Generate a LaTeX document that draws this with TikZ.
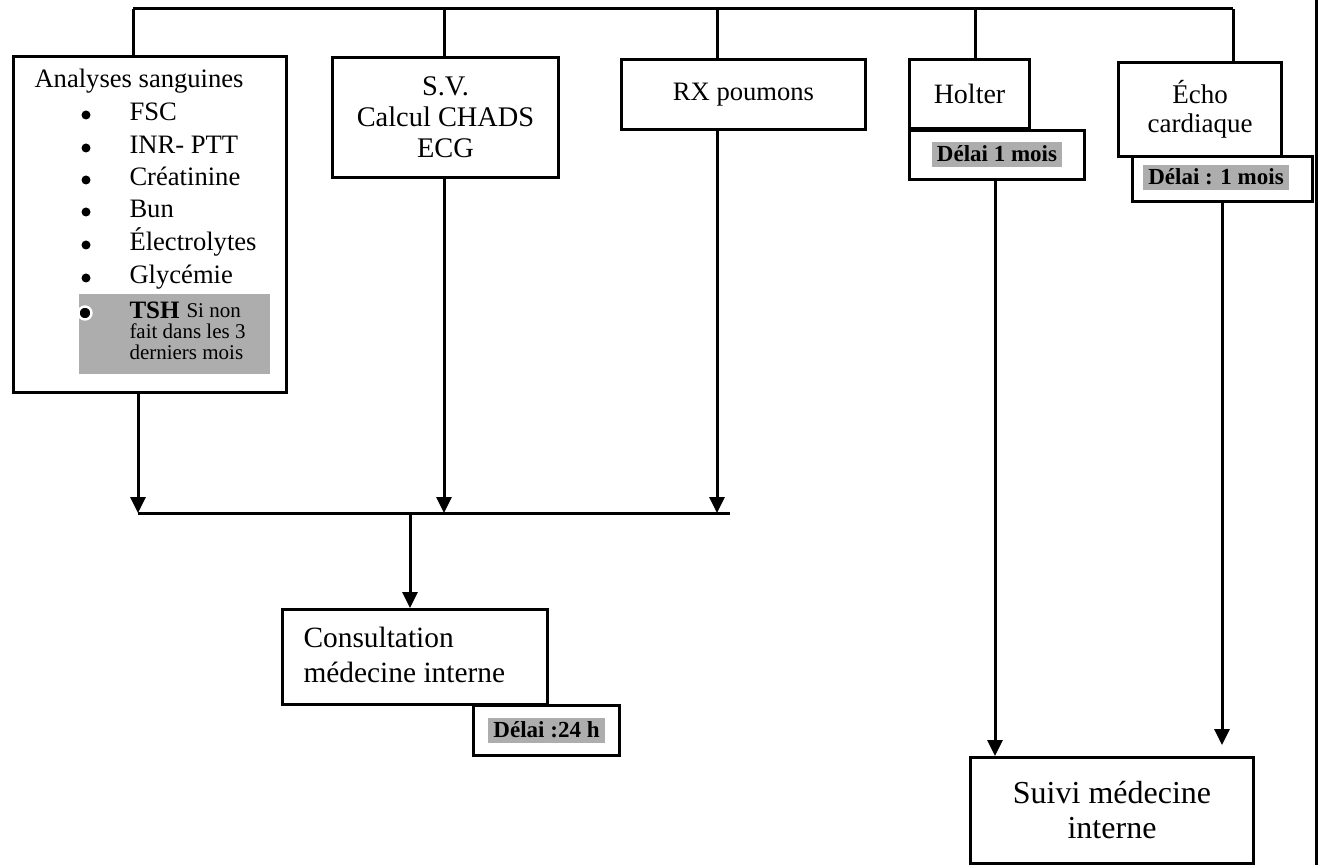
\documentclass[tikz,border=0pt]{standalone}
\usepackage{fontspec}
\setmainfont{Liberation Serif}
\usetikzlibrary{arrows.meta}
\definecolor{surligne}{gray}{0.68}

\begin{document}
\begin{tikzpicture}
	[x=0.5pt,y=-0.5pt,line width=1.5pt,
	every node/.style={inner sep=0pt},
	box/.style={draw, anchor=north west, align=center},
	delai/.style={fill=surligne, font=\fontsize{11.5}{12}\selectfont\bfseries, inner xsep=2.5pt, text height=9.5pt, text depth=3pt},
	item/.style={anchor=west, font=\fontsize{13.3}{16}\selectfont, text height=9pt, text depth=3pt},
	petit/.style={anchor=west, font=\fontsize{10.5}{10.5}\selectfont, text height=7pt, text depth=2pt},
	puce/.style={circle, fill, minimum size=4.5pt},
	fleche/.style={-{Triangle[length=8pt,width=7.5pt]}}]
	\useasboundingbox (0,0) rectangle (1320,865);

	\node[box, minimum width=136.5pt, minimum height=168pt] (ana) at (12,55) {};
	\node[box, minimum width=113pt, minimum height=60pt, font=\fontsize{14.2}{15.5}\selectfont] (sv) at (331,56) {S.V.\\Calcul CHADS\\ECG};
	\node[box, minimum width=122pt, minimum height=35pt, font=\fontsize{13.3}{15}\selectfont] (rx) at (620,58) {RX poumons};
	\node[box, minimum width=60pt, minimum height=34.5pt, font=\fontsize{14}{15}\selectfont] (hol) at (908,58) {Holter};
	\node[box, minimum width=87.5pt, minimum height=24.5pt] (hold) at (908,129) {};
	\node[box, minimum width=81.5pt, minimum height=47pt, font=\fontsize{13.5}{14.5}\selectfont] (echo) at (1117,61) {Écho\\cardiaque};
	\node[box, minimum width=90pt, minimum height=22.5pt] (echod) at (1131,155) {};
	\node[box, minimum width=132.5pt, minimum height=47.5pt] (cons) at (281,608) {};
	\node[box, minimum width=73pt, minimum height=25pt] (consd) at (472,704) {};
	\node[box, minimum width=141.5pt, minimum height=53pt, font=\fontsize{16}{17.5}\selectfont] (suivi) at (969,756) {Suivi médecine\\interne};

	\node[anchor=west, align=left, font=\fontsize{14.7}{17.5}\selectfont] (cons-t) at (302,655) {Consultation\\médecine interne};
	\node[delai] (d1) at (hold.center) {Délai 1 mois};
	\node[delai] (d2) at (1216,178) {Délai : 1 mois};
	\node[delai] (d3) at (consd.center) {Délai :24 h};

	\node[item] (titre) at (33,82) {Analyses sanguines};
	\foreach \nom/\yy [count=\i] in {FSC/115, INR- PTT/148, Créatinine/180, Bun/212, Électrolytes/245, Glycémie/278}
	{
		\node[puce] (pt\i) at (86,\yy) {};
		\node[item] (it\i) at (128,\yy) {\nom};
	}
	\node[fill=surligne, anchor=north west, minimum width=95.5pt, minimum height=40pt] (tsh) at (77,293) {};
	\node[puce, draw=white, line width=1.2pt, minimum size=6.5pt] (pt7) at (85,313) {};
	\node[item, font=\fontsize{12.5}{16}\selectfont\bfseries] (tsh-a) at (128,313) {TSH};
	\node[petit, xshift=2pt] (tsh-b) at (tsh-a.east) {Si non};
	\node[petit] (tsh-c) at (128,334) {fait dans les 3};
	\node[petit] (tsh-d) at (128,355) {derniers mois};

	\coordinate (h1) at (133,9);
	\coordinate (h2) at (444,9);
	\coordinate (h3) at (717,9);
	\coordinate (h4) at (975,9);
	\coordinate (h5) at (1233,9);
	\draw (h1) -- (h5);
	\foreach \h/\b in {h1/ana,h2/sv,h3/rx,h4/hol,h5/echo}
		\draw (\h) -- (\h |- \b.north);

	\coordinate (m1) at (138,513);
	\coordinate (m2) at (444,513);
	\coordinate (m3) at (717,513);
	\coordinate (m4) at (730,513);
	\coordinate (mc) at (410,513);
	\draw (m1) -- (m4);
	\foreach \b/\m in {ana/m1,sv/m2,rx/m3}
		\draw[fleche] (\m |- \b.south) -- (\m);
	\draw[fleche] (mc) -- (mc |- cons.north);

	\coordinate (v1) at (995,756);
	\coordinate (v2) at (1222,745);
	\draw[fleche] (v1 |- hold.south) -- (v1);
	\draw[fleche] (v2 |- echod.south) -- (v2);

	\coordinate (b1) at (1316,0);
	\coordinate (b2) at (1316,865);
	\draw (b1) -- (b2);
\end{tikzpicture}
\end{document}
